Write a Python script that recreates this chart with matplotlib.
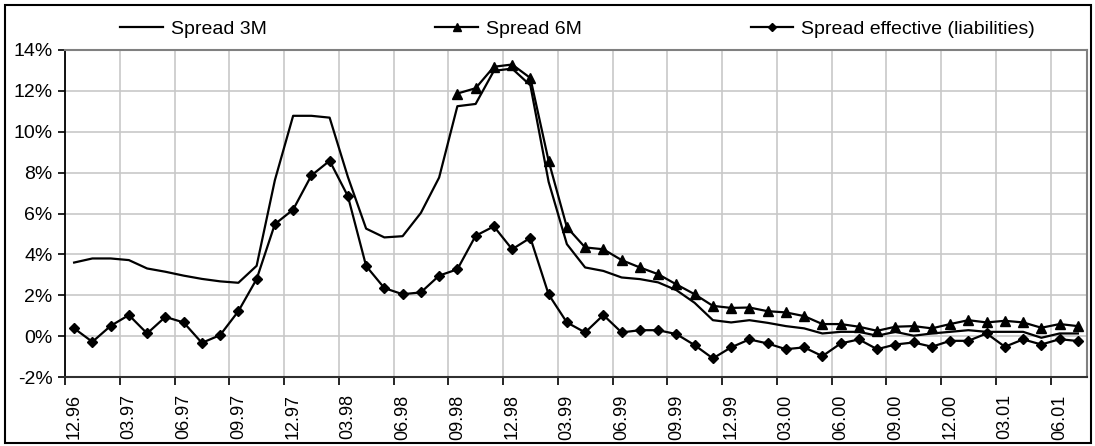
import numpy as np
import matplotlib
matplotlib.use('Agg')
from matplotlib import pyplot as plt
from matplotlib.patches import Rectangle

plt.rcParams['font.family'] = ['Liberation Sans', 'DejaVu Sans']

# monthly, 12.96 .. 07.01; a label on every third month
tick_labels = ['12.96', '03.97', '06.97', '09.97', '12.97', '03.98', '06.98',
               '09.98', '12.98', '03.99', '06.99', '09.99', '12.99', '03.00',
               '06.00', '09.00', '12.00', '03.01', '06.01']

spread_3m = [3.60, 3.80, 3.80, 3.72, 3.31, 3.15, 2.96, 2.80, 2.68, 2.61,
             3.44, 7.63, 10.78, 10.78, 10.69, 7.79, 5.26, 4.83, 4.89, 6.03,
             7.76, 11.25, 11.36, 12.98, 13.09, 12.27, 7.55, 4.50, 3.36, 3.19,
             2.87, 2.79, 2.63, 2.25, 1.63, 0.78, 0.67, 0.78, 0.65, 0.49,
             0.38, 0.13, 0.21, 0.21, 0.02, 0.21, 0.02, 0.13, 0.21, 0.29,
             0.21, 0.21, 0.21, -0.08, 0.13, 0.13]

spread_6m = [None] * 21 + [
             11.87, 12.13, 13.18, 13.29, 12.63, 8.57, 5.33, 4.34, 4.25,
             3.72, 3.36, 3.03, 2.53, 2.05, 1.48, 1.38, 1.40, 1.22, 1.16,
             0.98, 0.59, 0.59, 0.46, 0.26, 0.46, 0.49, 0.38, 0.59, 0.78,
             0.67, 0.75, 0.67, 0.41, 0.59, 0.49]

spread_eff = [0.38, -0.28, 0.50, 1.03, 0.13, 0.94, 0.67, -0.33, 0.05, 1.22,
              2.79, 5.48, 6.19, 7.86, 8.58, 6.85, 3.43, 2.35, 2.05, 2.14,
              2.96, 3.27, 4.91, 5.37, 4.25, 4.81, 2.04, 0.67, 0.18, 1.03,
              0.18, 0.29, 0.29, 0.10, -0.44, -1.09, -0.55, -0.16, -0.36, -0.64,
              -0.55, -0.98, -0.36, -0.16, -0.64, -0.41, -0.31, -0.52, -0.23, -0.23,
              0.13, -0.52, -0.16, -0.41, -0.15, -0.24]

n = len(spread_3m)
x = np.arange(n)
y6 = np.array([np.nan if v is None else v for v in spread_6m])

fig = plt.figure(figsize=(10.95, 4.46), dpi=100)
ax = fig.add_axes([65/1095, 1-377/446, (1087-65)/1095, (377-50)/446])

ax.plot(x, spread_3m, color='black', lw=1.6, label='Spread 3M')
ax.plot(x, y6, color='black', lw=1.6, marker='^', ms=7, label='Spread 6M')
ax.plot(x, spread_eff, color='black', lw=1.6, marker='D', ms=5.5,
        label='Spread effective (liabilities)')

ax.set_xlim(-0.5, n - 0.5)
ax.set_ylim(-2, 14)
ax.set_yticks(np.arange(-2, 15, 2))
ax.set_yticklabels([f'{v}%' for v in range(-2, 15, 2)])

# ticks and grid between categories, labels on the category
ax.set_xticks(np.arange(0, n, 3) - 0.5)
ax.set_xticklabels([])
ax.set_xticks(np.arange(0, n, 3)[:len(tick_labels)], minor=True)
ax.set_xticklabels(tick_labels, minor=True, rotation=90, fontsize=13)
ax.tick_params(axis='x', which='minor', length=0, pad=12.5)
ax.tick_params(axis='x', which='major', length=6, width=1.2, direction='out')
ax.tick_params(axis='y', length=5, width=1.2, labelsize=14, pad=4)

ax.grid(True, which='major', color='#c8c8c8', lw=1.2)
ax.set_axisbelow(True)
for s in ['top', 'right']:
    ax.spines[s].set_color('#808080')
    ax.spines[s].set_linewidth(1.5)
ax.spines['left'].set_color('black')
ax.spines['bottom'].set_color('#303030')
ax.spines['left'].set_linewidth(1.3)
ax.spines['bottom'].set_linewidth(1.5)

fig.legend(loc='lower left', ncol=3, mode='expand', frameon=False,
           bbox_to_anchor=(120/1095, 1-38/446, (1035-120)/1095, 26/446),
           bbox_transform=fig.transFigure, fontsize=14, handlelength=2.2,
           handletextpad=0.4, borderpad=0, borderaxespad=0, markerscale=0.8)

fig.patches.append(Rectangle((5/1095, 3/446), 1086/1095, 438/446,
                             transform=fig.transFigure, fill=False,
                             edgecolor='black', lw=1.5))

plt.savefig('out.png', dpi=100)
